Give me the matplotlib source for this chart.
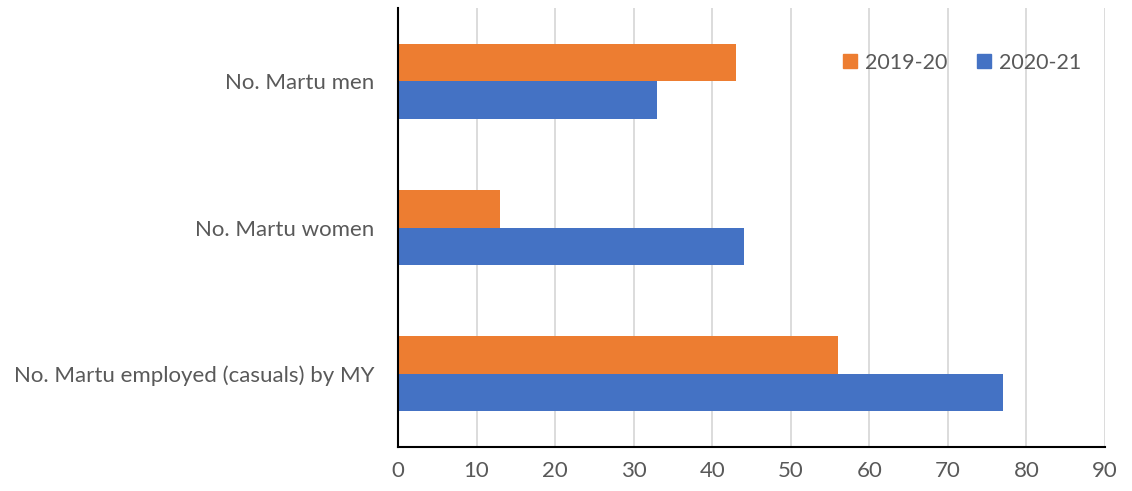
import matplotlib

matplotlib.use("Agg")
import matplotlib.pyplot as plt
import numpy as np
from matplotlib.patches import Patch

plt.rcParams["font.family"] = ["Lato", "DejaVu Sans"]

categories = ["No. Martu men", "No. Martu women", "No. Martu employed (casuals) by MY"]
values_2019_20 = [43, 13, 56]
values_2020_21 = [33, 44, 77]
series_labels = ["2019-20", "2020-21"]
x_ticks = [0, 10, 20, 30, 40, 50, 60, 70, 80, 90]

ORANGE = "#ED7D31"
BLUE = "#4472C4"
TEXT = "#595959"
GRID = "#D9D9D9"

fig = plt.figure(figsize=(11.32, 4.91), dpi=100)
ax = fig.add_axes([398 / 1132, 1 - 447 / 491, (1105 - 398) / 1132, (447 - 8) / 491])

y = np.arange(len(categories))
h = 0.256
ax.barh(y - h / 2, values_2019_20, height=h, color=ORANGE, label=series_labels[0], zorder=3)
ax.barh(y + h / 2, values_2020_21, height=h, color=BLUE, label=series_labels[1], zorder=3)

ax.set_ylim(2.5, -0.5)
ax.set_xlim(0, 90)
ax.set_xticks(x_ticks)
ax.set_yticks(y)
ax.set_yticklabels(categories)
ax.tick_params(axis="both", length=0, colors=TEXT, labelsize=16)
ax.tick_params(axis="x", pad=10)
ax.tick_params(axis="y", pad=17)

ax.xaxis.grid(True, color=GRID, lw=1.3, zorder=0)
for side in ("top", "right"):
    ax.spines[side].set_visible(False)
for side in ("left", "bottom"):
    ax.spines[side].set_color("black")
    ax.spines[side].set_linewidth(1.5)
    ax.spines[side].set_zorder(4)

handles = [Patch(color=ORANGE), Patch(color=BLUE)]
ax.legend(
    handles, series_labels, loc="center", bbox_to_anchor=(0.798, 0.875),
    ncol=2, frameon=False, fontsize=15.5, labelcolor=TEXT,
    handlelength=0.65, handleheight=0.65, handletextpad=0.35, columnspacing=1.4,
)

fig.savefig("out.png", dpi=100)
